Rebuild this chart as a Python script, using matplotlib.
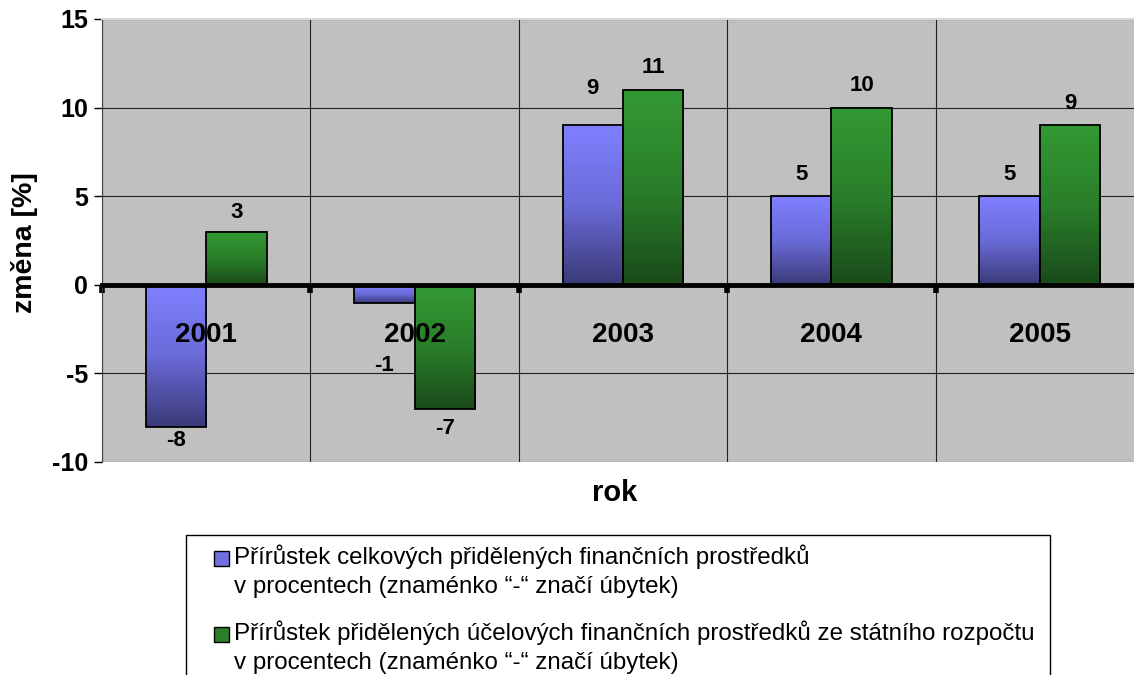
import matplotlib.pyplot as plt
import numpy as np
from matplotlib.patches import Rectangle
from matplotlib.colors import LinearSegmentedColormap

years = ["2001", "2002", "2003", "2004", "2005"]
celkove = [-8, -1, 9, 5, 5]
ucelove = [3, -7, 11, 10, 9]
labels = ["Přírůstek celkových přidělených finančních prostředků\nv procentech (znaménko “-“ značí úbytek)",
          "Přírůstek přidělených účelových finančních prostředků ze státního rozpočtu\nv procentech (znaménko “-“ značí úbytek)"]

plt.rcParams['font.family'] = ['Liberation Sans', 'DejaVu Sans']
plt.rcParams['axes.unicode_minus'] = False

W, H = 1134, 675
fig = plt.figure(figsize=(W/100, H/100), dpi=100)
ax = fig.add_axes([102/W, 1-462/H, 1042/W, 443/H])
ax.set_facecolor("#c0c0c0")

x = np.arange(len(years))
w = 0.29
blue_cm = LinearSegmentedColormap.from_list("b", ["#8080ff", "#6a6ad8", "#3a3a78"])
green_cm = LinearSegmentedColormap.from_list("g", ["#339933", "#2a7f2a", "#1a4a1a"])

grad = np.linspace(0, 1, 256).reshape(-1, 1)
bars1 = ax.bar(x - w/2, celkove, w, facecolor="none", edgecolor="black", linewidth=1.3, zorder=4)
bars2 = ax.bar(x + w/2, ucelove, w, facecolor="none", edgecolor="black", linewidth=1.3, zorder=4)
for bars, cm in [(bars1, blue_cm), (bars2, green_cm)]:
    for b in bars:
        x0, y0 = b.get_x(), b.get_y()
        x1, y1 = x0 + b.get_width(), y0 + b.get_height()
        ax.imshow(grad, cmap=cm, extent=[x0, x1, min(y0, y1), max(y0, y1)],
                  origin="upper", aspect="auto", zorder=3)

# data labels, offsets in px
off1 = [-14, -63, 37, 22, 22]
off2 = [19, -20, 22, 22, 22]
for bars, vals, offs in [(bars1, celkove, off1), (bars2, ucelove, off2)]:
    for b, v, o in zip(bars, vals, offs):
        ax.annotate(str(v), (b.get_x() + b.get_width()/2, v), xytext=(0, o * 0.72),
                    textcoords="offset points", ha="center", va="center",
                    fontsize=16, fontweight="bold", zorder=8)

# category labels sit inside the plot, on top of the bars
for i, yr in zip(x, years):
    ax.text(i, -2.85, yr, ha="center", va="center", fontsize=20, fontweight="bold", zorder=7)

ax.set_xlim(-0.5, len(years) - 0.5)
ax.set_ylim(-10, 15)
ax.set_yticks([-10, -5, 0, 5, 10, 15])
ax.tick_params(axis="y", labelsize=18, length=6, width=1, direction="out", pad=4)
for t in ax.get_yticklabels():
    t.set_fontweight("bold")

ax.set_xticks(np.arange(-0.5, len(years), 1))
ax.set_xticklabels([])
ax.tick_params(axis="x", length=6, width=4, direction="out", color="black")

ax.spines["bottom"].set_position(("data", 0))
ax.spines["bottom"].set_linewidth(3.5)
ax.spines["bottom"].set_zorder(6)
ax.spines["top"].set_color("#d8d8d8")
ax.spines["top"].set_linewidth(1.5)
ax.spines["right"].set_visible(False)
ax.spines["left"].set_color("#404040")
ax.grid(True, color="#202020", linewidth=0.8)
ax.set_axisbelow(True)

fig.text(25/W, 1-243/H, "změna [%]", rotation=90, ha="center", va="center",
         fontsize=20.5, fontweight="bold")
fig.text(615/W, 1-493/H, "rok", ha="center", va="center", fontsize=21, fontweight="bold")

# legend box, drawn by hand so the marker sits on the first text line
fig.patches.append(Rectangle((186/W, 1-700/H), 864/W, 165/H, transform=fig.transFigure,
                             facecolor="white", edgecolor="black", linewidth=1))
leg_colors = ["#7070e0", "#2a802a"]
for k, (lab, col) in enumerate(zip(labels, leg_colors)):
    top = 551 + k * 76
    fig.patches.append(Rectangle((214/W, 1-(top+15)/H), 15/W, 15/H, transform=fig.transFigure,
                                 facecolor=col, edgecolor="black", linewidth=1))
    fig.text(234/W, 1-(top-7)/H, lab, ha="left", va="top", fontsize=17.4, linespacing=1.42)

fig.savefig("out.png", dpi=100)
